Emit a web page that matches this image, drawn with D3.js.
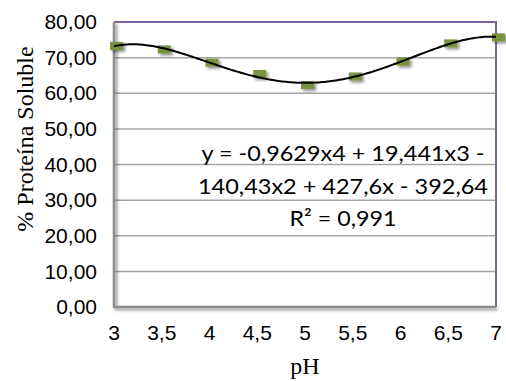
<!DOCTYPE html>
<html><head><meta charset="utf-8">
<script src="https://cdn.jsdelivr.net/npm/d3@7"></script>
<style>body{margin:0;background:#fff}svg{display:block}</style>
</head><body>
<svg id="c" width="506" height="381"></svg>
<script>
const phValues = [3, 3.5, 4, 4.5, 5, 5.5, 6, 6.5, 7];
const solubleProtein = [73.3, 72.3, 68.6, 65.4, 62.3, 64.7, 68.9, 74.0, 75.7];
const yTicks = [0, 10, 20, 30, 40, 50, 60, 70, 80];
const xTicks = [3, 3.5, 4, 4.5, 5, 5.5, 6, 6.5, 7];
const trendCoefs = [-0.9629, 19.441, -140.43, 427.6, -392.64]; // x^4 .. x^0
const eqLines = ["y = -0,9629x4 + 19,441x3 -", "140,43x2 + 427,6x - 392,64", "R² = 0,991"];

const svg = d3.select("#c");
const L = 114, R = 496, T = 22, B = 307;
const x = d3.scaleLinear().domain([3, 7]).range([L, R]);
const y = d3.scaleLinear().domain([0, 80]).range([B, T]);
const fmt = v => v.toFixed(2).replace(".", ",");
const fmtX = v => String(v).replace(".", ",");

const defs = svg.append("defs");
const f = defs.append("filter").attr("id", "sh").attr("x", "-50%").attr("y", "-50%").attr("width", "200%").attr("height", "200%");
f.append("feDropShadow").attr("dx", 2).attr("dy", 2).attr("stdDeviation", 1.5).attr("flood-color", "#000").attr("flood-opacity", 0.45);

// gridlines
svg.append("g").selectAll("line").data(yTicks.filter(d => d > 0 && d < 80)).join("line")
  .attr("x1", L).attr("x2", R).attr("y1", d => y(d)).attr("y2", d => y(d))
  .attr("stroke", "#a6a6a6").attr("stroke-width", 1.5);

// plot border top/right (purple)
svg.append("path").attr("d", `M${L},${T}H${R}V${B}`).attr("fill", "none")
  .attr("stroke", "#8064a2").attr("stroke-width", 2);

// axes lines (gray with shadow)
svg.append("path").attr("d", `M${L},${T}V${B}H${R}`).attr("fill", "none")
  .attr("stroke", "#8c8c8c").attr("stroke-width", 2.5).attr("filter", "url(#sh)");

// y tick labels
svg.append("g").selectAll("text").data(yTicks).join("text")
  .attr("x", 97).attr("y", d => y(d)).attr("dy", "0.34em")
  .attr("text-anchor", "end").attr("font-family", "Liberation Sans, Arial, sans-serif")
  .attr("font-size", 21).attr("fill", "#000").text(fmt);

// x tick labels
svg.append("g").selectAll("text").data(xTicks).join("text")
  .attr("x", d => x(d)).attr("y", 340)
  .attr("text-anchor", "middle").attr("font-family", "Liberation Sans, Arial, sans-serif")
  .attr("font-size", 21).attr("fill", "#000").text(fmtX);

// axis titles
svg.append("text").attr("x", 305).attr("y", 374).attr("text-anchor", "middle")
  .attr("font-family", "Liberation Serif, Times New Roman, serif").attr("font-size", 24)
  .attr("fill", "#000").text("pH");
svg.append("text").attr("transform", "translate(33,139) rotate(-90)").attr("text-anchor", "middle")
  .attr("font-family", "Liberation Serif, Times New Roman, serif").attr("font-size", 24)
  .attr("fill", "#000").text("% Proteína Soluble");

// markers
svg.append("g").selectAll("rect").data(phValues.map((p, i) => [p, solubleProtein[i]])).join("rect")
  .attr("x", d => x(d[0]) - 4).attr("y", d => y(d[1]) - 4)
  .attr("width", 13).attr("height", 8)
  .attr("fill", "#77933c").attr("filter", "url(#sh)");

// trendline
const poly = t => trendCoefs.reduce((acc, c) => acc * t + c, 0);
const xs = d3.range(0, 201).map(i => 3 + i * 4 / 200);
svg.append("path").datum(xs)
  .attr("d", d3.line().x(d => x(d)).y(d => y(poly(d))))
  .attr("fill", "none").attr("stroke", "#000").attr("stroke-width", 2);

// equation
const eqY = [161, 194, 226];
const eqW = [283, 290, 107];
svg.append("g").selectAll("text").data(eqLines).join("text")
  .attr("x", 343).attr("y", (d, i) => eqY[i]).attr("text-anchor", "middle")
  .attr("font-family", "Lato, Carlito, Calibri, sans-serif").attr("font-size", 22)
  .attr("textLength", (d, i) => eqW[i]).attr("lengthAdjust", "spacingAndGlyphs")
  .attr("fill", "#000").text(d => d);
</script>
</body></html>
